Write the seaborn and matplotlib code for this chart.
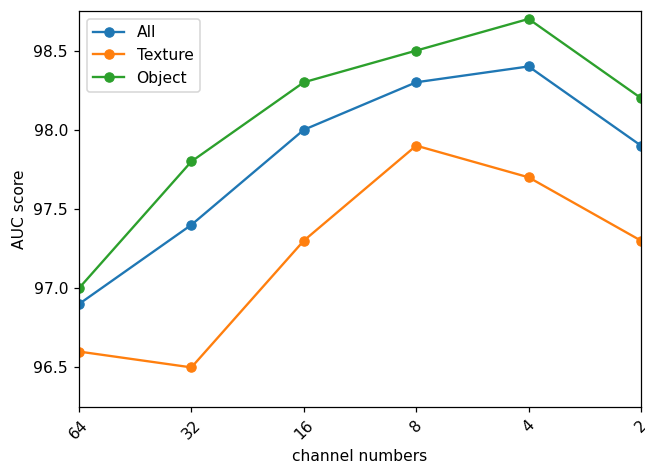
import matplotlib
matplotlib.use("Agg")
import matplotlib.pyplot as plt
import seaborn as sns
import pandas as pd

channels = ["64", "32", "16", "8", "4", "2"]
all_auc = [96.9, 97.4, 98.0, 98.3, 98.4, 97.9]
texture_auc = [96.6, 96.5, 97.3, 97.9, 97.7, 97.3]
object_auc = [97.0, 97.8, 98.3, 98.5, 98.7, 98.2]

series = {"All": all_auc, "Texture": texture_auc, "Object": object_auc}
colors = ["#1f77b4", "#ff7f0e", "#2ca02c"]

DPI = 112
fig = plt.figure(figsize=(645 / DPI, 466 / DPI), dpi=DPI)
ax = fig.add_axes([79 / 645, 59 / 466, 562 / 645, 396 / 466])

pos = list(range(len(channels)))
for (name, vals), c in zip(series.items(), colors):
    df = pd.DataFrame({"x": pos, "y": vals})
    sns.lineplot(data=df, x="x", y="y", ax=ax, color=c, marker="o",
                 markersize=6, markeredgecolor=c, linewidth=1.5, label=name)

ax.set_xlim(0, len(channels) - 1)
ax.set_ylim(96.25, 98.75)
ax.set_xticks(pos)
ax.set_xticklabels(channels, rotation=45)
ax.set_xlabel("channel numbers")
ax.set_ylabel("AUC score")
ax.legend(loc="upper left")

fig.savefig("out.png", dpi=DPI)
